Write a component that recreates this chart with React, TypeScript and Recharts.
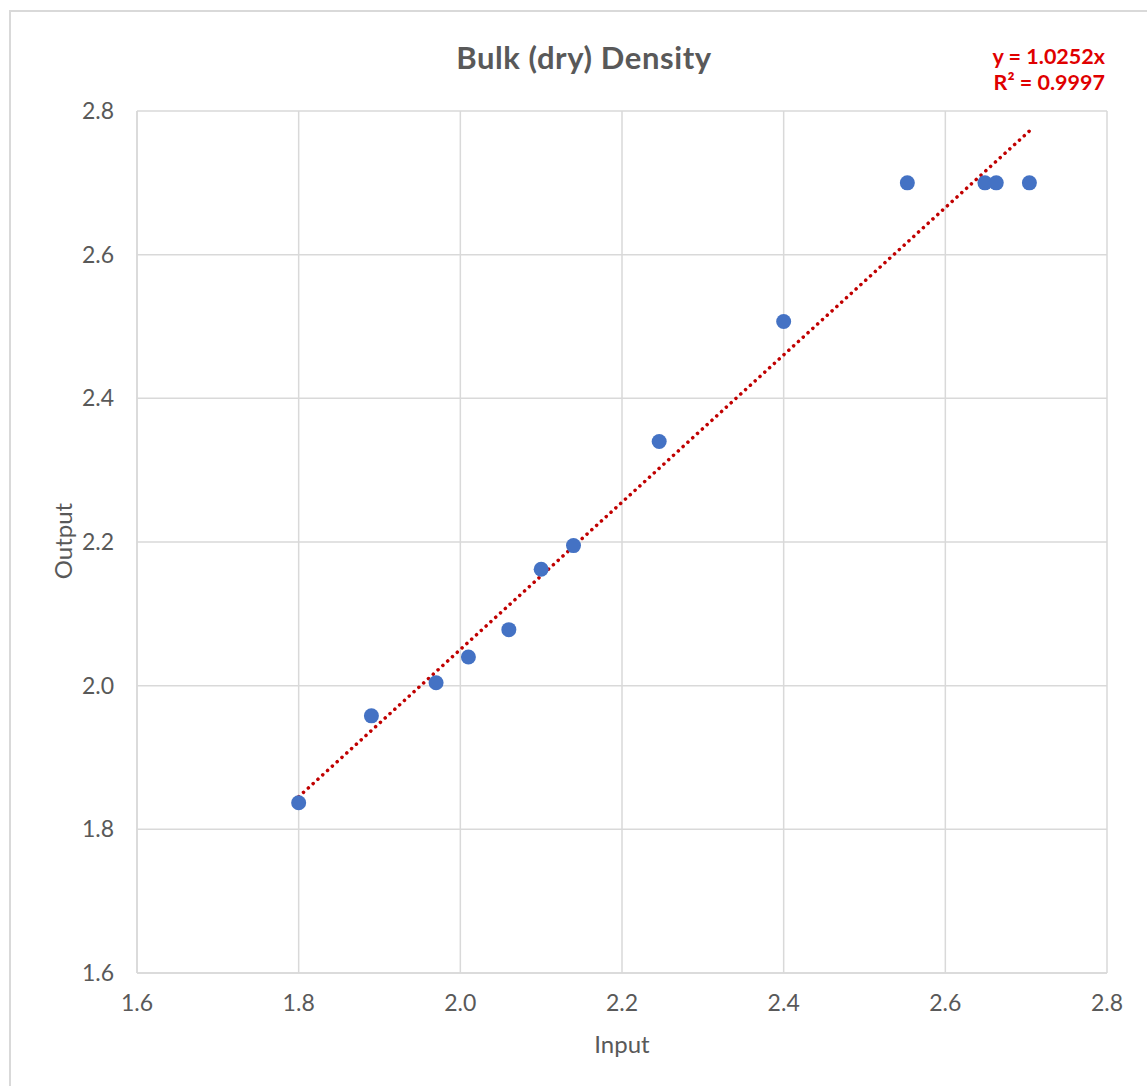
import {
  ComposedChart,
  Scatter,
  XAxis,
  YAxis,
  CartesianGrid,
  ReferenceLine,
} from "recharts";

const TEXT_GREY = "#595959";
const GRID_GREY = "#d9d9d9";
const POINT_BLUE = "#4472c4";
const TREND_RED = "#c00000";
const FONT = "Lato, 'Open Sans', sans-serif";

// measured pairs (input vs model output)
const inputValues = [1.8, 1.89, 1.97, 2.01, 2.06, 2.1, 2.14, 2.246, 2.4, 2.553, 2.649, 2.663, 2.704];
const outputValues = [1.837, 1.958, 2.004, 2.04, 2.078, 2.162, 2.195, 2.34, 2.507, 2.7, 2.7, 2.7, 2.7];

const axisTicks = [1.6, 1.8, 2.0, 2.2, 2.4, 2.6, 2.8];
const trendSlope = 1.0252;
const trendRange = [1.8, 2.704];

const points = inputValues.map((x, i) => ({ x, y: outputValues[i] }));

const tickStyle = { fill: TEXT_GREY, fontSize: 23, fontFamily: FONT };

export default function App() {
  return (
    <div
      style={{
        position: "absolute",
        left: 0,
        top: 0,
        width: 1147,
        height: 1086,
        background: "#fff",
        overflow: "hidden",
        fontFamily: FONT,
      }}
    >
      {/* chart frame, only top and left edges visible */}
      <div
        style={{
          position: "absolute",
          left: 9,
          top: 10,
          width: 1400,
          height: 1400,
          borderTop: `2px solid ${GRID_GREY}`,
          borderLeft: `2px solid ${GRID_GREY}`,
        }}
      />
      <ComposedChart
        width={1147}
        height={1086}
        margin={{ top: 111, right: 40, bottom: 73, left: 77 }}
        style={{ position: "absolute", left: 0, top: 0 }}
      >
        <CartesianGrid stroke={GRID_GREY} strokeWidth={1.5} />
        <XAxis
          type="number"
          dataKey="x"
          domain={[1.6, 2.8]}
          ticks={axisTicks}
          tickFormatter={(v: number) => v.toFixed(1)}
          axisLine={{ stroke: GRID_GREY, strokeWidth: 1.5 }}
          tickLine={false}
          tickSize={0}
          tickMargin={22}
          height={40}
          tick={tickStyle}
        />
        <YAxis
          type="number"
          dataKey="y"
          domain={[1.6, 2.8]}
          ticks={axisTicks}
          tickFormatter={(v: number) => v.toFixed(1)}
          axisLine={{ stroke: GRID_GREY, strokeWidth: 1.5 }}
          tickLine={false}
          tickSize={0}
          tickMargin={23}
          width={60}
          tick={tickStyle}
        />
        <ReferenceLine
          segment={[
            { x: trendRange[0], y: trendRange[0] * trendSlope },
            { x: trendRange[1], y: trendRange[1] * trendSlope },
          ]}
          stroke={TREND_RED}
          strokeWidth={3.5}
          strokeDasharray="0.1 6.4"
          strokeLinecap="round"
          ifOverflow="visible"
        />
        <Scatter
          data={points}
          fill={POINT_BLUE}
          shape={(p: any) => <circle cx={p.cx} cy={p.cy} r={7.5} fill={POINT_BLUE} />}
          isAnimationActive={false}
        />
      </ComposedChart>

      <div
        style={{
          position: "absolute",
          left: 584,
          top: 57,
          transform: "translate(-50%, -50%)",
          fontSize: 31,
          fontWeight: 700,
          letterSpacing: 0.6,
          color: TEXT_GREY,
          whiteSpace: "nowrap",
        }}
      >
        Bulk (dry) Density
      </div>
      <div
        style={{
          position: "absolute",
          right: 1147 - 1105,
          top: 43,
          textAlign: "right",
          fontSize: 21.5,
          fontWeight: 700,
          color: "#e00000",
          lineHeight: "26px",
          whiteSpace: "nowrap",
        }}
      >
        <div>y = 1.0252x</div>
        <div>R² = 0.9997</div>
      </div>
      <div
        style={{
          position: "absolute",
          left: 622,
          top: 1043,
          transform: "translate(-50%, -50%)",
          fontSize: 24,
          color: TEXT_GREY,
        }}
      >
        Input
      </div>
      <div
        style={{
          position: "absolute",
          left: 62,
          top: 541,
          transform: "translate(-50%, -50%) rotate(-90deg)",
          fontSize: 24,
          color: TEXT_GREY,
        }}
      >
        Output
      </div>
    </div>
  );
}
